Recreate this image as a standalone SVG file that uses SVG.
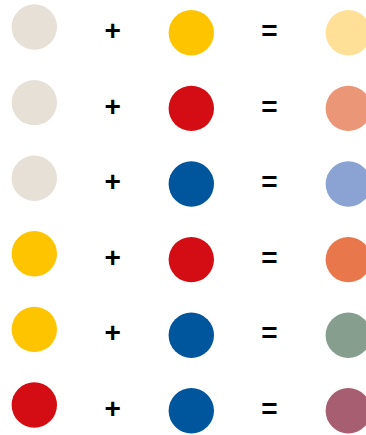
<svg xmlns="http://www.w3.org/2000/svg" width="366" height="435" viewBox="0 0 366 435">
<style>
.op{font-family:"Liberation Sans",Arial,sans-serif;font-weight:bold;font-size:28px;fill:#000;text-anchor:middle}
.beige{fill:#E6E0D7}.yellow{fill:#FEC400}.red{fill:#D30D13}.blue{fill:#00569D}
</style>
<rect width="366" height="435" fill="#fff"/>
<g id="row1">
<circle class="beige" cx="34.3" cy="27" r="22.7"/>
<text class="op" x="112.8" y="40">+</text>
<circle class="yellow" cx="191.3" cy="32.8" r="22.7"/>
<text class="op" x="269.5" y="40">=</text>
<circle fill="#FFE096" cx="348.3" cy="32.8" r="22.7"/>
</g>
<g id="row2">
<circle class="beige" cx="34.3" cy="102.6" r="22.7"/>
<text class="op" x="112.8" y="115.6">+</text>
<circle class="red" cx="191.3" cy="108.4" r="22.7"/>
<text class="op" x="269.5" y="115.6">=</text>
<circle fill="#EA9677" cx="348.3" cy="108.4" r="22.7"/>
</g>
<g id="row3">
<circle class="beige" cx="34.3" cy="178.2" r="22.7"/>
<text class="op" x="112.8" y="191.2">+</text>
<circle class="blue" cx="191.3" cy="184" r="22.7"/>
<text class="op" x="269.5" y="191.2">=</text>
<circle fill="#8AA3D2" cx="348.3" cy="184" r="22.7"/>
</g>
<g id="row4">
<circle class="yellow" cx="34.3" cy="253.8" r="22.7"/>
<text class="op" x="112.8" y="266.8">+</text>
<circle class="red" cx="191.3" cy="259.6" r="22.7"/>
<text class="op" x="269.5" y="266.8">=</text>
<circle fill="#E8784B" cx="348.3" cy="259.6" r="22.7"/>
</g>
<g id="row5">
<circle class="yellow" cx="34.3" cy="329.4" r="22.7"/>
<text class="op" x="112.8" y="342.4">+</text>
<circle class="blue" cx="191.3" cy="335.2" r="22.7"/>
<text class="op" x="269.5" y="342.4">=</text>
<circle fill="#859E8E" cx="348.3" cy="335.2" r="22.7"/>
</g>
<g id="row6">
<circle class="red" cx="34.3" cy="405" r="22.7"/>
<text class="op" x="112.8" y="418">+</text>
<circle class="blue" cx="191.3" cy="410.8" r="22.7"/>
<text class="op" x="269.5" y="418">=</text>
<circle fill="#A75E70" cx="348.3" cy="410.8" r="22.7"/>
</g>
<g id="connectors"></g>
</svg>
